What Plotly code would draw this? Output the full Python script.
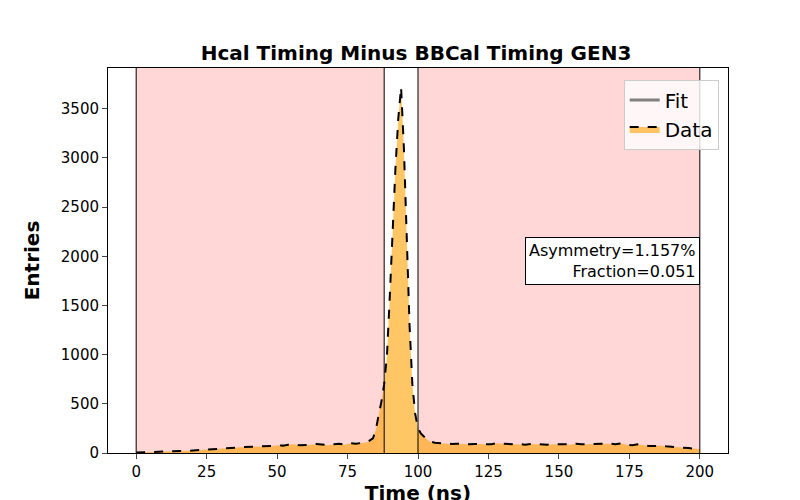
import plotly.graph_objects as go

x_lo = list(range(0, 84, 2))
y_lo = [5, 6, 8, 8, 10, 12, 14, 16, 20, 22, 25, 28, 32, 35, 38, 42, 50, 48, 55, 60, 62, 65, 68, 70, 72, 80, 75, 85, 90, 78, 80, 85, 92, 88, 80, 90, 95, 85, 100, 95, 100, 110]
x_pk = list(range(84, 105))
y_pk = [150, 230, 380, 520, 700, 1000, 1600, 2300, 2900, 3400, 3720, 3100, 2200, 1300, 700, 400, 250, 200, 170, 140, 120]
x_hi = list(range(106, 202, 2))
y_hi = [105, 100, 95, 92, 95, 90, 88, 92, 90, 85, 88, 100, 95, 90, 88, 90, 85, 92, 88, 90, 85, 88, 92, 90, 85, 95, 88, 90, 95, 92, 100, 95, 90, 98, 85, 80, 88, 78, 72, 70, 75, 68, 65, 60, 55, 50, 45, 38]
xs = x_lo + x_pk + x_hi
ys = y_lo + y_pk + y_hi

regions = [(0, 88), (100, 200)]
lines_x = [0, 88, 100, 200]
ymax = 3915

fig = go.Figure()
for a, b in regions:
    fig.add_shape(type="rect", x0=a, x1=b, y0=0, y1=ymax, fillcolor="rgba(255,150,150,0.38)", line_width=0, layer="below")
for lx in lines_x:
    fig.add_shape(type="line", x0=lx, x1=lx, y0=0, y1=ymax, line=dict(color="black", width=1))

fig.add_trace(go.Scatter(x=[None], y=[None], mode="lines", line=dict(color="gray", width=3), name="Fit"))
fig.add_trace(go.Scatter(x=xs, y=ys, mode="lines", fill="tozeroy", fillcolor="rgba(255,160,0,0.6)",
                         line=dict(color="black", width=2, dash="dash"), name="Data"))

fig.add_annotation(x=0.955, y=0.5, xref="paper", yref="paper", xanchor="right", yanchor="middle",
                   text="Asymmetry=1.157%<br>Fraction=0.051", align="right", showarrow=False,
                   bgcolor="white", bordercolor="black", borderwidth=1, borderpad=3,
                   font=dict(size=16, color="black"))

fig.update_layout(
    width=800, height=500, plot_bgcolor="white", paper_bgcolor="white",
    font=dict(family="DejaVu Sans", size=15, color="black"),
    title=dict(text="<b>Hcal Timing Minus BBCal Timing GEN3</b>", x=0.51, xanchor="center", y=0.91, yanchor="middle",
               font=dict(size=20), automargin=False),
    margin=dict(l=100, r=80, t=60, b=55, autoexpand=False),
    legend=dict(x=0.985, y=0.97, xanchor="right", yanchor="top", bgcolor="rgba(255,255,255,0.8)",
                bordercolor="#cccccc", borderwidth=1, font=dict(size=20)),
    xaxis=dict(range=[-10, 210], showline=True, linecolor="black", mirror=True, ticks="outside", showgrid=False,
               zeroline=False, tickvals=[0, 25, 50, 75, 100, 125, 150, 175, 200], automargin=False,
               title=dict(text="<b>Time (ns)</b>", font=dict(size=20), standoff=5)),
    yaxis=dict(range=[0, ymax], showline=True, linecolor="black", mirror=True, ticks="outside", showgrid=False,
               zeroline=False, dtick=500, automargin=False, title=dict(text="<b>Entries</b>", font=dict(size=20))),
)
fig.write_html("out.html")
